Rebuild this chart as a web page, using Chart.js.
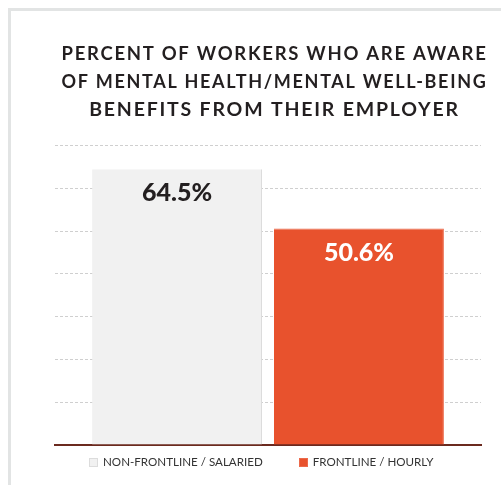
<!DOCTYPE html>
<html>
<head>
<meta charset="utf-8">
<script src="https://cdn.jsdelivr.net/npm/chart.js@4.4.1/dist/chart.umd.min.js"></script>
<style>
  html, body { margin: 0; padding: 0; background: #ffffff; }
  #wrap { position: relative; width: 501px; height: 485px; overflow: hidden; }
  #frame { position: absolute; left: 8px; top: 8px; right: -10px; bottom: -10px;
           border-left: 3px solid #e2e4e4; border-top: 3px solid #e2e4e4; pointer-events: none; }
  canvas { position: absolute; left: 0; top: 0; }
  #legend { position: absolute; left: 89px; top: 454px; display: flex; gap: 36px;
            font-family: Lato, sans-serif; font-size: 11.6px; color: #333333; line-height: 16px; white-space: nowrap; }
  #legend .item { display: flex; align-items: center; }
  #legend .box { width: 9px; height: 9px; margin-right: 5px; box-sizing: border-box; }
</style>
</head>
<body>
<div id="wrap">
  <div id="frame"></div>
  <canvas id="c" width="501" height="485"></canvas>
  <div id="legend"></div>
</div>
<script>
const titleLines = [
  "PERCENT OF WORKERS WHO ARE AWARE",
  "OF MENTAL HEALTH/MENTAL WELL-BEING",
  "BENEFITS FROM THEIR EMPLOYER"
];
const categories = [""];
const seriesNames = ["NON-FRONTLINE / SALARIED", "FRONTLINE / HOURLY"];
const nonFrontline = [64.5];
const frontline = [50.6];
const valueLabels = ["64.5%", "50.6%"];
const axisMax = 70;
const axisStep = 10;

const labelPlugin = {
  id: 'barLabels',
  afterDatasetsDraw(chart) {
    const ctx = chart.ctx;
    const colors = ['#231f20', '#ffffff'];
    chart.data.datasets.forEach((ds, i) => {
      const meta = chart.getDatasetMeta(i);
      meta.data.forEach((bar) => {
        ctx.save();
        ctx.font = '900 25px Lato';
        ctx.fillStyle = colors[i];
        ctx.textAlign = 'center';
        ctx.textBaseline = 'middle';
        ctx.fillText(valueLabels[i], bar.x, bar.y + 24);
        ctx.restore();
      });
    });
  }
};

const titleSpacing = {
  id: 'titleSpacing',
  afterInit(chart) {
    const tb = chart.titleBlock;
    if (!tb) return;
    const orig = tb.draw.bind(tb);
    tb.draw = function () {
      const ctx = chart.ctx;
      ctx.save();
      ctx.translate(6.5, 0);
      ctx.letterSpacing = '1.8px';
      orig();
      ctx.restore();
    };
  }
};

const chart = new Chart(document.getElementById('c'), {
  type: 'bar',
  data: {
    labels: categories,
    datasets: [
      { label: seriesNames[0], data: nonFrontline, backgroundColor: '#f1f1f1',
        borderColor: '#dcdcdc', borderWidth: { right: 1, top: 0, left: 0 }, borderSkipped: 'bottom' },
      { label: seriesNames[1], data: frontline, backgroundColor: '#e8522d',
        borderColor: '#ec6a4b', borderWidth: { right: 1, top: 1, left: 0 }, borderSkipped: 'bottom' }
    ]
  },
  options: {
    responsive: false,
    animation: false,
    devicePixelRatio: 1,
    categoryPercentage: 0.854,
    barPercentage: 0.934,
    layout: { padding: { left: 55, right: 20, top: 40, bottom: 40 } },
    plugins: {
      title: {
        display: true,
        text: titleLines,
        color: '#231f20',
        font: { family: 'Lato', size: 19.5, weight: 'bold', lineHeight: 1.43 },
        padding: { top: 0, bottom: 22 }
      },
      legend: { display: false },
      tooltip: { enabled: false }
    },
    scales: {
      x: {
        grid: { display: false, drawTicks: false },
        ticks: { display: false },
        border: { display: true, color: '#6b2a1f', width: 2 }
      },
      y: {
        min: 0, max: axisMax,
        ticks: { display: false, stepSize: axisStep },
        grid: { color: '#cfcfcf', lineWidth: 1, drawTicks: false },
        border: { display: false, dash: [3, 2] },
        afterFit(scale) { scale.width = 0; }
      }
    }
  },
  plugins: [labelPlugin, titleSpacing]
});

// HTML legend built from the chart's datasets
const legendEl = document.getElementById('legend');
chart.data.datasets.forEach((ds) => {
  const item = document.createElement('div');
  item.className = 'item';
  const box = document.createElement('span');
  box.className = 'box';
  box.style.background = ds.backgroundColor;
  box.style.border = '1px solid ' + ds.borderColor;
  const txt = document.createElement('span');
  txt.textContent = ds.label;
  item.appendChild(box);
  item.appendChild(txt);
  legendEl.appendChild(item);
});
</script>
</body>
</html>
